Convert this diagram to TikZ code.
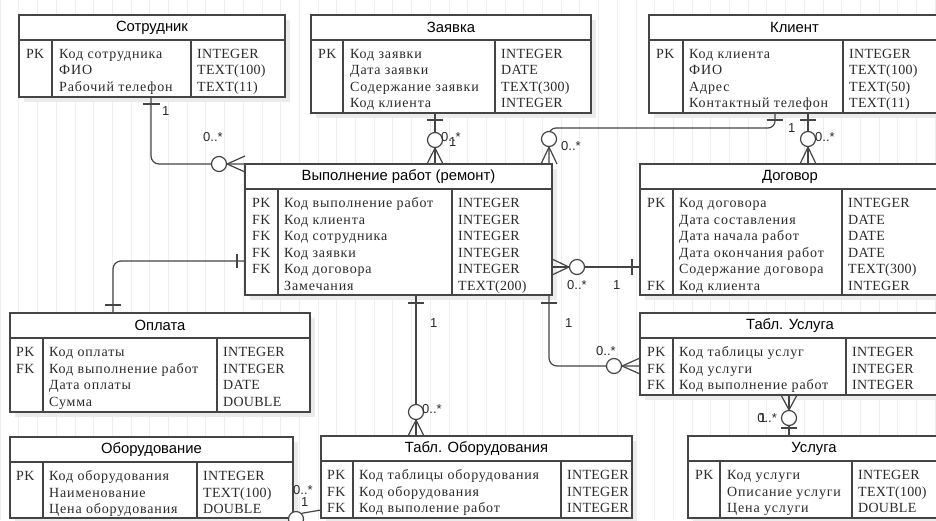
\documentclass[tikz,border=0pt]{standalone}
\usepackage{fontspec}
\setmainfont[LetterSpace=2]{Liberation Serif}
\newfontfamily\namefont[LetterSpace=6]{Liberation Serif}
\newfontfamily\titlefont{Liberation Sans}
\definecolor{lc}{HTML}{454545}
\definecolor{tc}{HTML}{2A2A2A}
\definecolor{gridc}{HTML}{EEEEEE}
\definecolor{shc}{HTML}{EBEBEB}
\tikzset{
 tline/.style={draw=lc, line width=1.2pt},
 tablebox/.style={draw=lc, line width=1.2pt, fill=white, inner sep=0pt, outer sep=0pt, rectangle},
 titletext/.style={font=\titlefont\fontsize{14.8}{17}\selectfont, text=black, inner sep=0pt},
 cell/.style={font=\fontsize{14}{16}\selectfont, text=tc, inner sep=0pt},
 ncell/.style={font=\namefont\fontsize{14}{16}\selectfont, text=tc, inner sep=0pt},
 conn/.style={draw=lc, line width=1.2pt},
 lbl/.style={font=\titlefont\fontsize{13}{15}\selectfont, text=tc, inner sep=0pt},
 ring/.style={draw=lc, line width=1.2pt, fill=white, circle, minimum size=15pt, inner sep=0pt},
}
\newcommand\ertable[8]{%
 \fill[shc] (#2+5,#3+5) rectangle (#4+5,#5+5);
 \node[tablebox, anchor=north west, minimum width={(#4)-(#2)}, minimum height={(#5)-(#3)}] (#1) at (#2,#3) {};
 \draw[tline] (#2,#3+25) -- (#4,#3+25);
 \draw[tline] (#6,#3+25) -- (#6,#5);
 \draw[tline] (#7,#3+25) -- (#7,#5);
 \node[titletext] (#1-title) at ({(#2+#4)/2},#3+12.5) {#8};
}
\newcommand\errows[4]{%
 \foreach \t [count=\i] in {#4} {\node[cell, anchor=base west] (#1\i) at (#2, {#3+(\i-1)*16.6}) {\t};}
}
\newcommand\ernames[4]{%
 \foreach \t [count=\i] in {#4} {\node[ncell, anchor=base west] (#1\i) at (#2, {#3+(\i-1)*16.6}) {\t};}
}
\begin{document}
\begin{tikzpicture}[x=1pt,y=-1pt]
\useasboundingbox (0,0) rectangle (936,520);
\clip (0,0) rectangle (936,520);
\fill[white] (0,0) rectangle (936,520);
\draw[gridc, line width=0.6pt] (0,0) grid[step=18.7] (936,520);

% ---------- tables ----------
\ertable{sotr}{19}{15}{285}{97}{52}{191}{Сотрудник}
\errows{sotrk}{26}{58}{PK}
\ernames{sotrn}{59}{58}{Код сотрудника,ФИО,Рабочий телефон}
\errows{sotrt}{197}{58}{INTEGER,TEXT(100),TEXT(11)}

\ertable{zay}{311}{15}{591}{113}{343}{495}{Заявка}
\errows{zayk}{318}{58}{PK}
\ernames{zayn}{350}{58}{Код заявки,Дата заявки,Содержание заявки,Код клиента}
\errows{zayt}{501}{58}{INTEGER,DATE,TEXT(300),INTEGER}

\ertable{kli}{649}{15}{940}{113}{683}{843}{Клиент}
\errows{klik}{656}{58}{PK}
\ernames{klin}{689}{58}{Код клиента,ФИО,Адрес,Контактный телефон}
\errows{klit}{849}{58}{INTEGER,TEXT(100),TEXT(50),TEXT(11)}

\ertable{vyp}{245}{164}{552}{295}{278}{452}{Выполнение работ (ремонт)}
\errows{vypk}{252}{207.5}{PK,FK,FK,FK,FK}
\ernames{vypn}{284}{207.5}{Код выполнение работ,Код клиента,Код сотрудника,Код заявки,Код договора,Замечания}
\errows{vypt}{458}{207.5}{INTEGER,INTEGER,INTEGER,INTEGER,INTEGER,TEXT(200)}

\ertable{dog}{640}{164}{940}{295}{673}{842}{Договор}
\errows{dogk}{647}{207.5}{PK,{},{},{},{},FK}
\ernames{dogn}{679}{207.5}{Код договора,Дата составления,Дата начала работ,Дата окончания работ,Содержание договора,Код клиента}
\errows{dogt}{848}{207.5}{INTEGER,DATE,DATE,DATE,TEXT(300),INTEGER}

\ertable{opl}{10}{313}{310}{412}{43}{217}{Оплата}
\errows{oplk}{16}{356.5}{PK,FK}
\ernames{opln}{49}{356.5}{Код оплаты,Код выполнение работ,Дата оплаты,Сумма}
\errows{oplt}{223}{356.5}{INTEGER,INTEGER,DATE,DOUBLE}

\ertable{tusl}{640}{313}{940}{395}{673}{846}{Табл. Услуга}
\errows{tuslk}{647}{356.5}{PK,FK,FK}
\ernames{tusln}{679}{356.5}{Код таблицы услуг,Код услуги,Код выполнение работ}
\errows{tuslt}{852}{356.5}{INTEGER,INTEGER,INTEGER}

\ertable{obo}{10}{437}{293}{518}{43}{197}{Оборудование}
\errows{obok}{16}{480.5}{PK}
\ernames{obon}{49}{480.5}{Код оборудования,Наименование,Цена оборудования}
\errows{obot}{203}{480.5}{INTEGER,TEXT(100),DOUBLE}

\ertable{tobo}{321}{436}{632}{518}{353}{561}{Табл. Оборудования}
\errows{tobok}{327}{479.5}{PK,FK,FK}
\ernames{tobon}{359}{479.5}{Код таблицы оборудования,Код оборудования,Код выполение работ}
\errows{tobot}{567}{479.5}{INTEGER,INTEGER,INTEGER}

\ertable{usl}{688}{436}{940}{518}{720}{852}{Услуга}
\errows{uslk}{695}{479.5}{PK}
\ernames{usln}{727}{479.5}{Код услуги,Описание услуги,Цена услуги}
\errows{uslt}{858}{479.5}{INTEGER,TEXT(100),DOUBLE}

% ---------- connectors ----------
% Сотрудник -> Выполнение
\draw[conn, rounded corners=8] (sotr.south -| 151,0) -- (151,164) -- (vyp.north west);
\draw[conn] (143,104) -- (160,104);
\node[ring] (r1) at (219,164) {};
\draw[conn] (r1.east) -- (245,156) (r1.east) -- (245,172);
\node[lbl, anchor=west] (l1a) at (162,111) {1};
\node[lbl, anchor=west] (l1b) at (203,137) {0..*};

% Заявка -> Выполнение
\draw[conn] (zay.south -| 435,0) -- (vyp.north -| 435,0);
\draw[conn] (427,120) -- (443,120);
\node[ring] (r2) at (435,140) {};
\draw[conn] (r2.south) -- (427,164) (r2.south) -- (443,164);
\node[lbl, anchor=west] (l2b) at (441,137) {0..*};
\node[lbl, anchor=west] (l2a) at (449,142) {1};

% Клиент -> Выполнение
\draw[conn, rounded corners=7] (kli.south -| 775,0) -- (775,128) -- (549,128) -- (vyp.north -| 549,0);
\draw[conn] (767,120) -- (783,120);
\node[ring] (r3) at (549,139) {};
\draw[conn] (r3.south) -- (541,164) (r3.south) -- (557,164);
\node[lbl, anchor=west] (l3a) at (788,128) {1};
\node[lbl, anchor=west] (l3b) at (561,146) {0..*};

% Клиент -> Договор
\draw[conn] (kli.south -| 808,0) -- (dog.north -| 808,0);
\draw[conn] (800,120) -- (816,120);
\node[ring] (r4) at (808,139) {};
\draw[conn] (r4.south) -- (800,164) (r4.south) -- (816,164);
\node[lbl, anchor=west] (l4b) at (815,137) {0..*};

% Выполнение -> Договор
\draw[conn] (vyp.east |- 0,267) -- (dog.west |- 0,267);
\node[ring] (r5) at (577,267) {};
\draw[conn] (r5.west) -- (552,259) (r5.west) -- (552,275);
\draw[conn] (632,259) -- (632,275);
\node[lbl, anchor=west] (l5b) at (567,285) {0..*};
\node[lbl, anchor=west] (l5a) at (613,285) {1};

% Выполнение -> Оплата
\draw[conn, rounded corners=8] (vyp.west |- 0,261) -- (113,261) -- (opl.north -| 113,0);
\draw[conn] (237,254) -- (237,268);
\draw[conn] (105,305) -- (121,305);

% Выполнение -> Табл. Оборудования
\draw[conn] (vyp.south -| 416,0) -- (tobo.north -| 416,0);
\draw[conn] (408,303) -- (424,303);
\node[ring] (r7) at (416,412) {};
\draw[conn] (r7.south) -- (408,436) (r7.south) -- (424,436);
\node[lbl, anchor=west] (l7a) at (430,323) {1};
\node[lbl, anchor=west] (l7b) at (422,409) {0..*};

% Выполнение -> Табл. Услуга
\draw[conn, rounded corners=8] (vyp.south -| 549,0) -- (549,366) -- (tusl.west |- 0,366);
\draw[conn] (541,303) -- (557,303);
\node[ring] (r8) at (614,366) {};
\draw[conn] (r8.east) -- (640,358) (r8.east) -- (640,374);
\node[lbl, anchor=west] (l8a) at (565,323) {1};
\node[lbl, anchor=west] (l8b) at (596,351) {0..*};

% Табл. Услуга -> Услуга
\draw[conn] (tusl.south -| 789,0) -- (usl.north -| 789,0);
\node[ring] (r9) at (789,418) {};
\draw[conn] (r9.north) -- (781,395) (r9.north) -- (797,395);
\draw[conn] (781,428) -- (797,428);
\node[lbl, anchor=east] (l9b) at (777,418) {0..*};
\node[lbl, anchor=west] (l9a) at (759,418) {1};

% Оборудование -> Табл. Оборудования
\node[ring] (r10) at (296,519) {};
\draw[conn] (r10.north east) -- (tobo.west |- 0,510);
\node[lbl, anchor=west] (l10b) at (293,490) {0..*};
\node[lbl, anchor=west] (l10a) at (301,502) {1};
\end{tikzpicture}
\end{document}
